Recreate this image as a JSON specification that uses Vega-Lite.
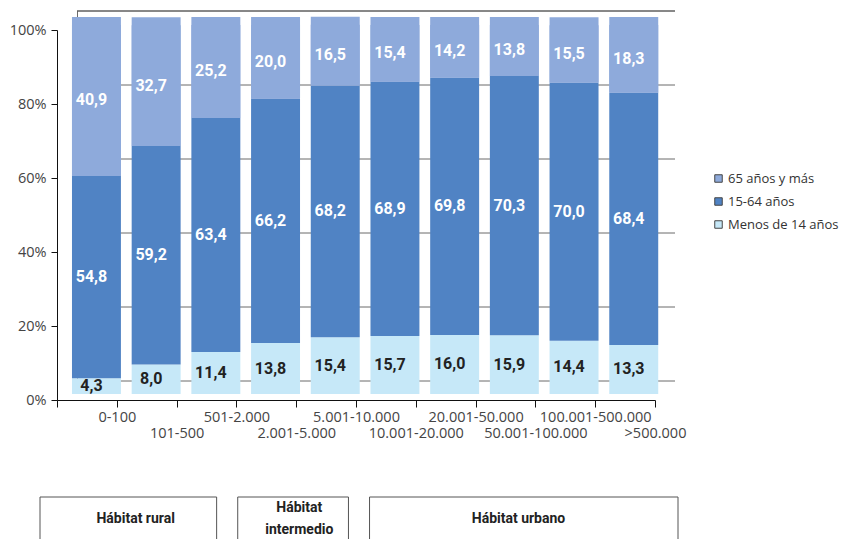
{
  "$schema": "https://vega.github.io/schema/vega-lite/v6.json",
  "width": 598,
  "height": 389,
  "autosize": {"type": "none"},
  "padding": {"left": 77, "top": 11, "right": 168, "bottom": 139},
  "background": "white",
  "config": {
    "view": {"stroke": null},
    "font": "Open Sans",
    "locale": {"number": {"decimal": ",", "thousands": ".", "grouping": [3], "currency": ["", " €"]}}
  },
  "datasets": {
    "d": [
      {"cat": "0-100", "grp": "Menos de 14 años", "v": 4.3, "k": 1},
      {"cat": "0-100", "grp": "15-64 años", "v": 54.8, "k": 2},
      {"cat": "0-100", "grp": "65 años y más", "v": 40.9, "k": 3},
      {"cat": "101-500", "grp": "Menos de 14 años", "v": 8.0, "k": 1},
      {"cat": "101-500", "grp": "15-64 años", "v": 59.2, "k": 2},
      {"cat": "101-500", "grp": "65 años y más", "v": 32.7, "k": 3},
      {"cat": "501-2.000", "grp": "Menos de 14 años", "v": 11.4, "k": 1},
      {"cat": "501-2.000", "grp": "15-64 años", "v": 63.4, "k": 2},
      {"cat": "501-2.000", "grp": "65 años y más", "v": 25.2, "k": 3},
      {"cat": "2.001-5.000", "grp": "Menos de 14 años", "v": 13.8, "k": 1},
      {"cat": "2.001-5.000", "grp": "15-64 años", "v": 66.2, "k": 2},
      {"cat": "2.001-5.000", "grp": "65 años y más", "v": 20.0, "k": 3},
      {"cat": "5.001-10.000", "grp": "Menos de 14 años", "v": 15.4, "k": 1},
      {"cat": "5.001-10.000", "grp": "15-64 años", "v": 68.2, "k": 2},
      {"cat": "5.001-10.000", "grp": "65 años y más", "v": 16.5, "k": 3},
      {"cat": "10.001-20.000", "grp": "Menos de 14 años", "v": 15.7, "k": 1},
      {"cat": "10.001-20.000", "grp": "15-64 años", "v": 68.9, "k": 2},
      {"cat": "10.001-20.000", "grp": "65 años y más", "v": 15.4, "k": 3},
      {"cat": "20.001-50.000", "grp": "Menos de 14 años", "v": 16.0, "k": 1},
      {"cat": "20.001-50.000", "grp": "15-64 años", "v": 69.8, "k": 2},
      {"cat": "20.001-50.000", "grp": "65 años y más", "v": 14.2, "k": 3},
      {"cat": "50.001-100.000", "grp": "Menos de 14 años", "v": 15.9, "k": 1},
      {"cat": "50.001-100.000", "grp": "15-64 años", "v": 70.3, "k": 2},
      {"cat": "50.001-100.000", "grp": "65 años y más", "v": 13.8, "k": 3},
      {"cat": "100.001-500.000", "grp": "Menos de 14 años", "v": 14.4, "k": 1},
      {"cat": "100.001-500.000", "grp": "15-64 años", "v": 70.0, "k": 2},
      {"cat": "100.001-500.000", "grp": "65 años y más", "v": 15.5, "k": 3},
      {"cat": ">500.000", "grp": "Menos de 14 años", "v": 13.3, "k": 1},
      {"cat": ">500.000", "grp": "15-64 años", "v": 68.4, "k": 2},
      {"cat": ">500.000", "grp": "65 años y más", "v": 18.3, "k": 3}
    ],
    "grid": [{"g": 0}, {"g": 20}, {"g": 40}, {"g": 60}, {"g": 80}, {"g": 100}],
    "boxes": [
      {"grupo": "Hábitat rural", "desde": "0-100", "hasta": "501-2.000", "centro": "101-500"},
      {"grupo": "Hábitat\nintermedio", "desde": "2.001-5.000", "hasta": "5.001-10.000", "centro": "2.001-5.000"},
      {"grupo": "Hábitat urbano", "desde": "10.001-20.000", "hasta": ">500.000", "centro": "50.001-100.000"}
    ]
  },
  "resolve": {
    "scale": {"x": "independent", "y": "independent"},
    "axis": {"x": "independent", "y": "independent"}
  },
  "layer": [
    {
      "data": {"name": "grid"},
      "mark": {"type": "rule", "strokeWidth": 1},
      "encoding": {
        "y": {
          "field": "g", "type": "quantitative",
          "scale": {"domain": [0, 100], "range": [370, 0], "nice": false, "zero": false},
          "axis": {"orient": "left", "labels": false, "ticks": false, "grid": false, "domain": true, "domainColor": "#6b6b6b", "title": null}
        },
        "color": {"condition": {"test": "datum.g == 100", "value": "#111111"}, "value": "#6b6b6b"}
      }
    },
    {
      "data": {"name": "d"},
      "mark": {"type": "bar"},
      "encoding": {
        "x": {
          "field": "cat", "type": "nominal", "sort": null,
          "scale": {"range": [-10.4, 586.6], "paddingInner": 0.18, "paddingOuter": 0.09},
          "axis": null
        },
        "y": {
          "field": "v", "type": "quantitative", "stack": "zero",
          "scale": {"domain": [0, 100], "range": [383, 14], "nice": false, "zero": false},
          "axis": null
        },
        "color": {
          "field": "grp", "type": "nominal",
          "scale": {
            "domain": ["65 años y más", "15-64 años", "Menos de 14 años"],
            "range": ["#8eaadb", "#5083c4", "#c6e8f8"]
          },
          "legend": {
            "orient": "none", "legendX": 635, "legendY": 161, "title": null,
            "symbolType": "square", "symbolSize": 56, "symbolStrokeColor": "#444444", "symbolStrokeWidth": 1,
            "labelFontSize": 13, "labelColor": "#333333", "rowPadding": 9, "labelOffset": 3, "padding": 0
          }
        },
        "order": {"field": "k", "type": "quantitative"}
      }
    },
    {
      "data": {"name": "d"},
      "transform": [
        {"stack": "v", "groupby": ["cat"], "sort": [{"field": "k"}], "as": ["s0", "s1"]},
        {"filter": "datum.k == 3"}
      ],
      "mark": {"type": "bar", "yOffset": -8, "color": "#8eaadb"},
      "encoding": {
        "x": {
          "field": "cat", "type": "nominal", "sort": null,
          "scale": {"range": [-10.4, 586.6], "paddingInner": 0.18, "paddingOuter": 0.09},
          "axis": null
        },
        "y": {
          "field": "s1", "type": "quantitative",
          "scale": {"domain": [0, 100], "range": [383, 14], "nice": false, "zero": false},
          "axis": null
        },
        "y2": {"field": "s0"}
      }
    },
    {
      "data": {"name": "d"},
      "mark": {"type": "text", "font": "Roboto", "fontWeight": "bold", "fontSize": 16, "dy": 0, "dx": -5},
      "encoding": {
        "x": {
          "field": "cat", "type": "nominal", "sort": null,
          "scale": {"range": [-10.4, 586.6], "paddingInner": 0.18, "paddingOuter": 0.09},
          "axis": null
        },
        "y": {
          "field": "v", "type": "quantitative", "stack": "zero", "bandPosition": 0.5,
          "scale": {"domain": [0, 100], "range": [383, 14], "nice": false, "zero": false},
          "axis": null
        },
        "order": {"field": "k", "type": "quantitative"},
        "text": {"field": "v", "type": "quantitative", "format": ".1f"},
        "color": {"condition": {"test": "datum.grp === 'Menos de 14 años'", "value": "#222222"}, "value": "#ffffff"}
      }
    },
    {
      "data": {"name": "grid"},
      "mark": {"type": "rule", "opacity": 0},
      "encoding": {
        "y": {
          "field": "g", "type": "quantitative",
          "scale": {"domain": [0, 100], "range": [389, 19], "nice": false, "zero": false},
          "axis": {
            "orient": "left", "offset": 20, "values": [0, 20, 40, 60, 80, 100],
            "labelExpr": "datum.value + '%'", "tickSize": 6, "tickColor": "#111111", "domainColor": "#111111",
            "labelFontSize": 14.5, "labelColor": "#444444", "labelPadding": 5, "title": null, "grid": false
          }
        }
      }
    },
    {
      "data": {"name": "d"},
      "mark": {"type": "point", "opacity": 0},
      "encoding": {
        "x": {
          "field": "cat", "type": "nominal", "sort": null,
          "scale": {"range": [-20, 578], "paddingInner": 0, "paddingOuter": 0},
          "axis": {
            "orient": "bottom", "tickBand": "extent", "labelOffset": 29.9,
            "labelExpr": "round(datum.index * 9) % 2 == 1 ? ['', datum.label] : datum.label",
            "labelAngle": 0, "tickSize": 7, "tickColor": "#111111", "domainColor": "#111111",
            "labelFontSize": 14.5, "labelColor": "#444444", "labelPadding": 3, "labelLineHeight": 16,
            "labelOverlap": false, "labelBound": false, "title": null, "grid": false
          }
        }
      }
    },
    {
      "data": {"name": "boxes"},
      "mark": {"type": "rect", "fill": "white", "stroke": "#555555", "strokeWidth": 1},
      "encoding": {
        "x": {
          "field": "desde", "type": "nominal", "bandPosition": 0,
          "scale": {"domain": ["0-100", "101-500", "501-2.000", "2.001-5.000", "5.001-10.000", "10.001-20.000", "20.001-50.000", "50.001-100.000", "100.001-500.000", ">500.000"], "range": [-37, 601], "paddingInner": 0.32, "paddingOuter": 0},
          "axis": null
        },
        "x2": {"field": "hasta", "bandPosition": 1},
        "y": {"datum": 0, "type": "quantitative", "scale": {"domain": [0, 1], "range": [486, 530], "nice": false, "zero": false}, "axis": null},
        "y2": {"datum": 1}
      }
    },
    {
      "data": {"name": "boxes"},
      "transform": [{"filter": "indexof(datum.grupo, '\\n') < 0"}],
      "mark": {"type": "text", "font": "Roboto", "fontWeight": "bold", "fontSize": 14, "color": "#222222"},
      "encoding": {
        "x": {
          "field": "centro", "type": "nominal",
          "scale": {"domain": ["0-100", "101-500", "501-2.000", "2.001-5.000", "5.001-10.000", "10.001-20.000", "20.001-50.000", "50.001-100.000", "100.001-500.000", ">500.000"], "range": [-37, 601], "paddingInner": 0.32, "paddingOuter": 0},
          "axis": null
        },
        "y": {"datum": 0.5, "type": "quantitative", "scale": {"domain": [0, 1], "range": [486, 530], "nice": false, "zero": false}, "axis": null},
        "text": {"field": "grupo"}
      }
    },
    {
      "data": {"name": "boxes"},
      "transform": [{"filter": "indexof(datum.grupo, '\\n') >= 0"}],
      "mark": {"type": "text", "font": "Roboto", "fontWeight": "bold", "fontSize": 14, "lineBreak": "\n", "lineHeight": 22, "dy": -11, "dx": 36, "color": "#222222"},
      "encoding": {
        "x": {
          "field": "centro", "type": "nominal",
          "scale": {"domain": ["0-100", "101-500", "501-2.000", "2.001-5.000", "5.001-10.000", "10.001-20.000", "20.001-50.000", "50.001-100.000", "100.001-500.000", ">500.000"], "range": [-37, 601], "paddingInner": 0.32, "paddingOuter": 0},
          "axis": null
        },
        "y": {"datum": 0.5, "type": "quantitative", "scale": {"domain": [0, 1], "range": [486, 530], "nice": false, "zero": false}, "axis": null},
        "text": {"field": "grupo"}
      }
    }
  ]
}
